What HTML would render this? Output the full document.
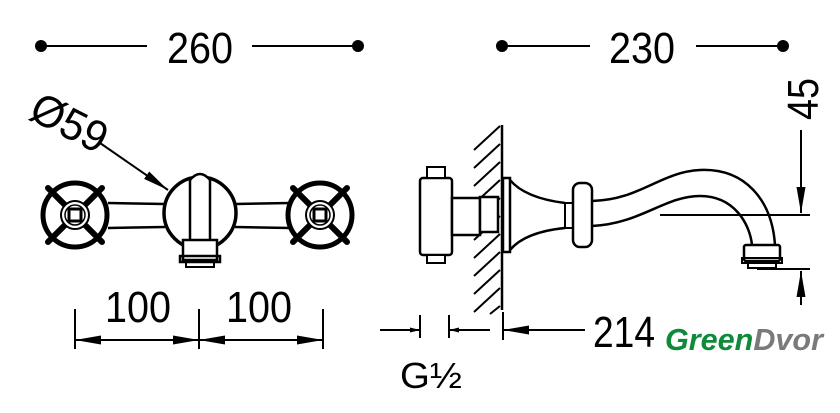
<!DOCTYPE html>
<html><head><meta charset="utf-8"><style>html,body{margin:0;padding:0;background:#fff;width:840px;height:413px;overflow:hidden}svg{display:block}</style></head>
<body>
<svg width="840" height="413" viewBox="0 0 840 413" xmlns="http://www.w3.org/2000/svg" font-family="'Liberation Sans', sans-serif">
<defs>
<marker id="a" viewBox="0 0 10 10" refX="10" refY="5" markerWidth="10" markerHeight="10" orient="auto-start-reverse" markerUnits="userSpaceOnUse"><path d="M0,2.5 L10,5 L0,7.5 Z" fill="#000"/></marker>
<marker id="b" viewBox="0 0 10 10" refX="10" refY="5" markerWidth="26" markerHeight="18" orient="auto-start-reverse" markerUnits="userSpaceOnUse" preserveAspectRatio="none"><path d="M0,2.5 L10,5 L0,7.5 Z" fill="#000"/></marker>
</defs>
<g stroke="#000" stroke-width="2" fill="none">
<line x1="41" y1="46" x2="147" y2="46"/><line x1="252" y1="46" x2="358" y2="46"/>
<line x1="502" y1="46" x2="590" y2="46"/><line x1="696" y1="46" x2="783" y2="46"/>
</g>
<g fill="#000"><circle cx="41" cy="46" r="6"/><circle cx="358" cy="46" r="6"/><circle cx="502" cy="46" r="6"/><circle cx="783" cy="46" r="6"/></g>
<g font-size="44" fill="#000">
<text x="167" y="63" textLength="66" lengthAdjust="spacingAndGlyphs">260</text>
<text x="609" y="63" textLength="66" lengthAdjust="spacingAndGlyphs">230</text>
<text x="105" y="322" textLength="66" lengthAdjust="spacingAndGlyphs">100</text>
<text x="226" y="322" textLength="66" lengthAdjust="spacingAndGlyphs">100</text>
<text x="593" y="347" textLength="62" lengthAdjust="spacingAndGlyphs">214</text>
<text transform="translate(818,120) rotate(-90)" textLength="42" lengthAdjust="spacingAndGlyphs">45</text>
<text transform="translate(27,118) rotate(27)" textLength="80" lengthAdjust="spacingAndGlyphs">Ø59</text>
</g>
<text x="400" y="388" font-size="36" fill="#000" textLength="62" lengthAdjust="spacingAndGlyphs">G½</text>
<g stroke="#000" fill="none">
<line x1="100" y1="143" x2="168" y2="190" stroke-width="2" marker-end="url(#b)"/>
<path d="M108,203 L165,204 M108,228 L165,227 M235,204 L290,203 M235,227 L290,228" stroke-width="2.5"/>
<circle cx="200" cy="213" r="36" stroke-width="3.5"/>
<path d="M190,245 L190,180 Q200,168 210,180 L210,245" stroke-width="2.5" fill="#fff"/>
<rect x="183" y="240" width="34" height="20" stroke-width="2.5" fill="#fff"/>
<rect x="180" y="256" width="40" height="6" stroke-width="2.5"/>
<rect x="186" y="262" width="28" height="5" stroke-width="2"/>
<g id="h" stroke-width="5">
<circle cx="75" cy="215" r="32"/>
<line x1="48" y1="188" x2="102" y2="242" stroke-width="6" stroke-linecap="round"/>
<line x1="102" y1="188" x2="48" y2="242" stroke-width="6" stroke-linecap="round"/>
<circle cx="75" cy="215" r="14" stroke-width="2" fill="#fff"/>
<circle cx="75" cy="215" r="10" stroke-width="1.5"/>
<rect x="69" y="209" width="12" height="12" stroke-width="3"/>
</g>
<use href="#h" x="245"/>
<path d="M75,309 V349 M199,309 V349 M323,309 V349" stroke-width="2"/>
<line x1="75" y1="340" x2="199" y2="340" stroke-width="2" marker-start="url(#b)" marker-end="url(#b)"/>
<line x1="199" y1="340" x2="323" y2="340" stroke-width="2" marker-start="url(#b)" marker-end="url(#b)"/>
<path d="M420,315 V338 M449,315 V338 M503,312 V340" stroke-width="2"/>
<line x1="380" y1="330" x2="420" y2="330" stroke-width="2" marker-end="url(#a)"/>
<line x1="490" y1="330" x2="449" y2="330" stroke-width="2" marker-end="url(#a)"/>
<line x1="585" y1="330" x2="503" y2="330" stroke-width="2" marker-end="url(#b)"/>
<line x1="502" y1="125" x2="502" y2="310" stroke-width="2.5"/>
<g stroke-width="2">
<path d="M474,150 L500,126 M474,168 L500,144 M474,186 L500,162 M474,204 L500,180 M474,222 L500,198 M474,240 L500,216 M474,258 L500,234 M474,276 L500,252 M474,294 L500,270 M474,312 L500,288 M490,314 L500,306"/>
</g>
<rect x="420" y="178" width="32" height="77" rx="3" stroke-width="2.5" fill="#fff"/>
<rect x="427" y="167" width="18" height="11" stroke-width="2" fill="#fff"/>
<rect x="427" y="255" width="18" height="8" stroke-width="2" fill="#fff"/>
<rect x="452" y="198" width="28" height="37" stroke-width="2.5" fill="#fff"/>
<rect x="480" y="197" width="18" height="35" stroke-width="2.5" fill="#fff"/>
<rect x="503" y="178" width="7" height="74" stroke-width="2.5" fill="#fff"/>
<path d="M510,180 Q525,198 565,203 M510,250 Q525,232 565,228" stroke-width="2.5"/>
<rect x="565" y="203" width="8" height="25" stroke-width="2"/>
<rect x="573" y="183" width="19" height="64" rx="7" stroke-width="2.5" fill="#fff"/>
<path d="M592,201 C640,200 660,172 700,170 C745,168 772,200 775,245" stroke-width="2.5"/>
<path d="M592,226 C640,224 665,196 700,196 C735,196 750,225 752,245" stroke-width="2.5"/>
<rect x="744" y="245" width="36" height="16" rx="2" stroke-width="2.5" fill="#fff"/>
<rect x="742" y="258" width="40" height="5" stroke-width="2"/>
<rect x="748" y="263" width="28" height="5" stroke-width="2"/>
<line x1="660" y1="215" x2="810" y2="215" stroke-width="2"/>
<line x1="757" y1="269" x2="810" y2="269" stroke-width="2"/>
<line x1="801" y1="130" x2="801" y2="213" stroke-width="2" marker-end="url(#b)"/>
<line x1="801" y1="313" x2="801" y2="271" stroke-width="2" marker-end="url(#b)"/>
</g>
<rect x="656" y="305" width="184" height="60" fill="#fff"/>
<text x="665" y="350" font-size="31" font-weight="bold" font-style="italic" textLength="158" lengthAdjust="spacingAndGlyphs"><tspan fill="#0e8a3a">Green</tspan><tspan fill="#7a7a7a">Dvor</tspan></text>
</svg>
</body></html>
